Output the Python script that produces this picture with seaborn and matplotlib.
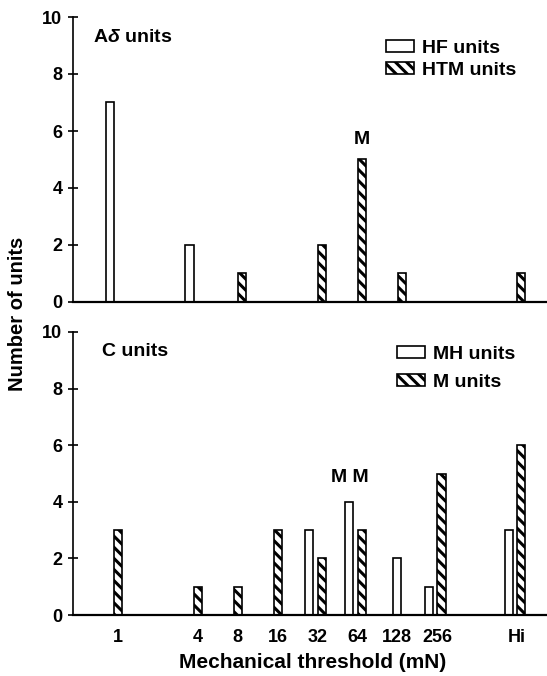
import numpy as np
import pandas as pd
import matplotlib
matplotlib.use("Agg")
import matplotlib.pyplot as plt
import matplotlib.patches as mpatches
import seaborn as sns

# ---------------- data ----------------
thresholds = ["1", "4", "8", "16", "32", "64", "128", "256", "Hi"]
hf_units = [7, 2, 0, 0, 0, 0, 0, 0, 0]      # A-delta, open bars
htm_units = [0, 0, 1, 0, 2, 5, 1, 0, 1]     # A-delta, hatched bars
mh_units = [0, 0, 0, 0, 3, 4, 2, 1, 3]      # C, open bars
m_units = [3, 1, 1, 3, 2, 3, 0, 5, 6]       # C, hatched bars
panel_titles = ["A$\\delta$ units", "C units"]
legend_top = ["HF units", "HTM units"]
legend_bottom = ["MH units", "M units"]
y_ticks = [0, 2, 4, 6, 8, 10]
x_label = "Mechanical threshold (mN)"
y_label = "Number of units"

# ---------------- style ----------------
sns.set_style("ticks")
plt.rcParams["font.family"] = ["Liberation Sans", "DejaVu Sans"]
plt.rcParams["font.weight"] = "bold"
plt.rcParams["mathtext.fontset"] = "custom"
plt.rcParams["mathtext.it"] = "Liberation Sans:italic:bold"
plt.rcParams["mathtext.rm"] = "Liberation Sans:bold"
plt.rcParams["hatch.linewidth"] = 2.2
plt.rcParams["hatch.color"] = "black"
for key in ["text.color", "axes.labelcolor", "xtick.color", "ytick.color",
            "axes.edgecolor"]:
    plt.rcParams[key] = "black"

W, H = 547, 676
fig = plt.figure(figsize=(W / 100, H / 100), dpi=100)
fig.patch.set_facecolor("white")


def fx(px):
    return px / W


def fy(py):
    return 1 - py / H


def slot_of(lbl):
    # octave (log2) position; 'Hi' sits two octaves beyond 256
    return 10.0 if lbl == "Hi" else float(np.log2(float(lbl)))


slots = np.array([slot_of(t) for t in thresholds])

PX0, PXK = 118, 39.9          # pixel of slot 0, pixels per octave
AX_L, AX_R = 73, 547
XLIM = ((AX_L - PX0) / PXK, (AX_R - PX0) / PXK)
BAR_W = 0.205
OFF_OPEN, OFF_HATCH = -0.21, 0.11
HATCH = "\\\\\\"
FS_TICK, FS_TEXT = 13, 14
BAR_LW = 1.2


def draw_panel(ax, open_vals, hatch_vals, always_dodge):
    open_vals = np.asarray(open_vals)
    hatch_vals = np.asarray(hatch_vals)
    dodge = ((open_vals > 0) & (hatch_vals > 0)) | always_dodge
    series = [
        (open_vals, np.where(dodge, OFF_OPEN, 0.0), ""),
        (hatch_vals, np.where(dodge, OFF_HATCH, 0.0), HATCH),
    ]
    for vals, off, hatch in series:
        mask = vals > 0
        df = pd.DataFrame({"pos": slots[mask] + off[mask], "count": vals[mask]})
        u = np.unique(df["pos"])
        nat = float(np.min(np.diff(u))) if len(u) > 1 else 1.0
        n_before = len(ax.patches)
        sns.barplot(data=df, x="pos", y="count", native_scale=True,
                    width=BAR_W / nat, color="white", saturation=1,
                    edgecolor="black", linewidth=BAR_LW, errorbar=None, ax=ax)
        for p in ax.patches[n_before:]:
            p.set_facecolor("white")
            p.set_edgecolor("black")
            p.set_hatch(hatch)


def style_axes(ax, show_xlabels):
    ax.set_xlim(*XLIM)
    ax.set_ylim(0, 10)
    ax.set_yticks(y_ticks)
    ax.set_xlabel("")
    ax.set_ylabel("")
    sns.despine(ax=ax)
    ax.spines["bottom"].set_linewidth(1.6)
    ax.spines["left"].set_linewidth(1.2)
    ax.tick_params(axis="y", direction="inout", length=7.2, width=1.2,
                   pad=4.0, labelsize=FS_TICK, colors="black")
    if show_xlabels:
        ax.set_xticks(slots)
        ax.set_xticklabels(thresholds)
        ax.tick_params(axis="x", length=0, pad=10, labelsize=FS_TICK,
                       colors="black")
    else:
        ax.set_xticks([])
    for lab in ax.get_xticklabels() + ax.get_yticklabels():
        lab.set_fontweight("bold")
    ax.set_facecolor("white")


ax_top = fig.add_axes([fx(AX_L), fy(302), fx(AX_R - AX_L), (302 - 17) / H])
ax_bot = fig.add_axes([fx(AX_L), fy(615), fx(AX_R - AX_L), (615 - 332) / H])

draw_panel(ax_top, hf_units, htm_units, always_dodge=True)
draw_panel(ax_bot, mh_units, m_units, always_dodge=False)
style_axes(ax_top, False)
style_axes(ax_bot, True)

# annotations
ax_top.text(slots[5] + OFF_HATCH, htm_units[5] + 0.4, "M", ha="center",
            va="bottom", fontsize=FS_TEXT, fontweight="bold")
ax_bot.text(slots[5] - 0.19, mh_units[5] + 0.55, "M M", ha="center",
            va="bottom", fontsize=FS_TEXT, fontweight="bold")

# panel titles
fig.text(fx(93), fy(38), panel_titles[0], ha="left", va="center",
         fontsize=FS_TEXT, fontweight="bold")
fig.text(fx(102), fy(352), panel_titles[1], ha="left", va="center",
         fontsize=FS_TEXT, fontweight="bold")


# legends
def make_handles(labels):
    return [
        mpatches.Patch(facecolor="white", edgecolor="black", linewidth=BAR_LW,
                       label=labels[0]),
        mpatches.Patch(facecolor="white", edgecolor="black", linewidth=BAR_LW,
                       hatch=HATCH, label=labels[1]),
    ]


leg_kw = dict(loc="upper left", bbox_transform=fig.transFigure, frameon=False,
              borderpad=0, borderaxespad=0, handlelength=1.45,
              handleheight=0.55, handletextpad=0.4,
              prop={"size": FS_TEXT, "weight": "bold"})
fig.legend(handles=make_handles(legend_top), bbox_to_anchor=(fx(386), fy(40)),
           labelspacing=0.25, **leg_kw)
fig.legend(handles=make_handles(legend_bottom), bbox_to_anchor=(fx(397), fy(346)),
           labelspacing=0.55, **leg_kw)

# axis labels
fig.text(fx(313), fy(663), x_label, ha="center", va="center",
         fontsize=15, fontweight="bold")
fig.text(fx(18), fy(314), y_label, ha="center", va="center", rotation=90,
         fontsize=14.5, fontweight="bold")

fig.savefig("out.png", dpi=100, facecolor="white")
